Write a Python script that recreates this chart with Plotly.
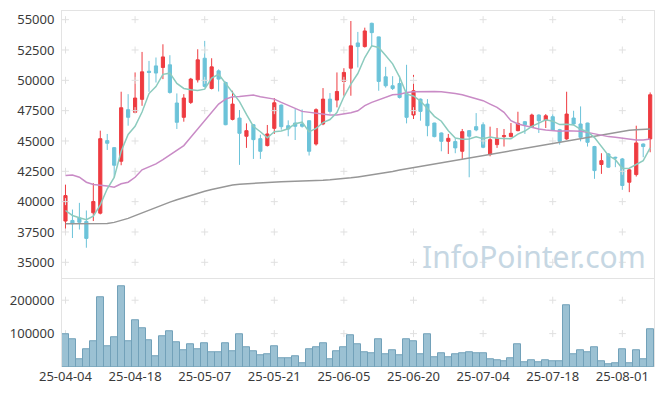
import plotly.graph_objects as go

dates = [
    "25-04-04", "25-04-07", "25-04-08", "25-04-09", "25-04-10", "25-04-11", "25-04-14", "25-04-15",
    "25-04-16", "25-04-17", "25-04-18", "25-04-21", "25-04-22", "25-04-23", "25-04-24", "25-04-25",
    "25-04-28", "25-04-29", "25-04-30", "25-05-02", "25-05-07", "25-05-08", "25-05-09", "25-05-12",
    "25-05-13", "25-05-14", "25-05-15", "25-05-16", "25-05-19", "25-05-20", "25-05-21", "25-05-22",
    "25-05-23", "25-05-26", "25-05-27", "25-05-28", "25-05-29", "25-05-30", "25-06-02", "25-06-04",
    "25-06-05", "25-06-09", "25-06-10", "25-06-11", "25-06-12", "25-06-13", "25-06-16", "25-06-17",
    "25-06-18", "25-06-19", "25-06-20", "25-06-23", "25-06-24", "25-06-25", "25-06-26", "25-06-27",
    "25-06-30", "25-07-01", "25-07-02", "25-07-03", "25-07-04", "25-07-07", "25-07-08", "25-07-09",
    "25-07-10", "25-07-11", "25-07-14", "25-07-15", "25-07-16", "25-07-17", "25-07-18", "25-07-21",
    "25-07-22", "25-07-23", "25-07-24", "25-07-25", "25-07-28", "25-07-29", "25-07-30", "25-07-31",
    "25-08-01", "25-08-04", "25-08-05", "25-08-06", "25-08-07",
]

open_ = [38400, 38450, 38650, 38370, 39080, 39050, 45030, 44450, 43330, 47580,
         47360, 48430, 50750, 51190, 51060, 51280, 48130, 46950, 48180, 50040,
         51820, 49330, 50780, 49820, 46780, 46890, 45390, 46340, 45190, 44620,
         46040, 47960, 46260, 46480, 46400, 46670, 44750, 46400, 48450, 48370,
         49910, 51000, 53080, 52780, 54700, 53580, 50290, 49550, 49740, 48920,
         47140, 48450, 48040, 46480, 45660, 44970, 44950, 44150, 45850, 46180,
         46340, 43880, 44700, 45360, 45360, 45850, 46590, 46180, 47140, 46730,
         47000, 45930, 45170, 46890, 46400, 46480, 44540, 43060, 43930, 43660,
         43520, 41600, 42230, 44750, 45170]
high = [41400, 39350, 39900, 39270, 41520, 45850, 45580, 44500, 49060, 48860,
        50650, 52340, 51600, 51880, 52970, 52070, 48920, 48860, 50200, 52560,
        53250, 51820, 50900, 49900, 49140, 47550, 46450, 46400, 45520, 46320,
        48540, 48000, 46700, 47630, 47600, 46700, 47690, 49360, 48950, 50650,
        51000, 54890, 53990, 54340, 54750, 53600, 51110, 50340, 50370, 51280,
        50450, 48500, 48450, 46500, 45700, 45580, 45200, 45990, 45900, 47300,
        46540, 46180, 46070, 45990, 46480, 47410, 46650, 47250, 47200, 47220,
        47200, 46000, 49060, 47490, 47850, 46500, 44600, 43990, 44000, 43700,
        43600, 42700, 46260, 44800, 49000]
low = [37450, 37000, 37700, 36200, 38400, 38950, 44260, 42010, 43000, 46260,
       47300, 47900, 49050, 49820, 50100, 48900, 45990, 46590, 48050, 49820,
       49400, 49250, 49080, 46300, 46700, 43030, 44430, 43520, 43520, 44550,
       45580, 45930, 45390, 45080, 46100, 43800, 44620, 46300, 47250, 47770,
       48730, 48730, 51060, 52700, 52750, 49140, 49400, 49200, 48500, 46450,
       46810, 46670, 45390, 45300, 44150, 43930, 43990, 43520, 42010, 45800,
       44400, 43740, 44430, 44540, 45300, 45800, 45580, 46100, 45660, 46070,
       45850, 44700, 45100, 46300, 44970, 44540, 41880, 42290, 42800, 42840,
       40970, 40780, 42070, 43660, 44070]
close = [40500, 38180, 38300, 36970, 40010, 45190, 44810, 43000, 47740, 46950,
         48540, 50700, 50650, 50600, 51930, 49000, 46540, 48540, 50100, 51690,
         49500, 51110, 50100, 46340, 48040, 45630, 45850, 45110, 44150, 45580,
         48150, 46180, 45990, 46210, 46210, 44150, 47580, 48450, 47440, 49080,
         50650, 52840, 52780, 54070, 53930, 49910, 49550, 49330, 48590, 46950,
         49140, 47440, 46260, 45360, 44970, 45220, 44430, 45770, 45390, 45910,
         44480, 45110, 45220, 45440, 45630, 46450, 46340, 47140, 46670, 47080,
         45910, 44970, 47220, 46400, 45300, 44890, 42560, 43380, 42840, 43600,
         41330, 42620, 44840, 44540, 48810]

ma5 = [39270, 38860, 38670, 38510, 38800, 39740, 41060, 42000, 44150, 45540,
       46210, 47390, 48910, 49490, 50490, 50590, 49750, 49330, 49220, 49170,
       49270, 50190, 50500, 49750, 49020, 48250, 47190, 46200, 45760, 45260,
       45770, 45830, 46010, 46420, 46550, 45750, 46030, 46520, 46770, 47340,
       48640, 49690, 50560, 51880, 52850, 52710, 52050, 51360, 50260, 48860,
       48710, 48290, 47680, 47030, 46630, 45850, 45250, 45150, 45160, 45340,
       45190, 45330, 45220, 45230, 45180, 45570, 45820, 46200, 46450, 46740,
       46630, 46350, 46370, 46320, 45960, 45760, 45280, 44510, 43800, 43460,
       42740, 42750, 43040, 43380, 44430]
ma20 = [42150, 42200, 42010, 41600, 41410, 41360, 41280, 41190, 41470, 41600,
        42010, 42620, 42840, 43110, 43470, 43850, 44210, 44620, 45300, 45990,
        46670, 47360, 48040, 48450, 48650, 48670, 48700, 48780, 48650, 48540,
        48450, 48180, 47910, 47690, 47440, 47360, 47300, 47220, 47140, 47140,
        47220, 47330, 47490, 47910, 48180, 48370, 48590, 48810, 48860, 49000,
        49060, 49080, 49080, 49080, 49060, 49000, 48920, 48810, 48650, 48450,
        48320, 48040, 47770, 47360, 46670, 46400, 46260, 46120, 45990, 45910,
        45850, 45800, 45850, 45850, 45800, 45710, 45580, 45440, 45360, 45300,
        45220, 45170, 45080, 45080, 45170]
ma60 = [38180, 38180, 38180, 38180, 38180, 38190, 38200, 38290, 38430, 38620,
        38850, 39080, 39300, 39530, 39750, 39960, 40160, 40350, 40530, 40700,
        40860, 41000, 41140, 41270, 41370, 41440, 41480, 41520, 41560, 41590,
        41620, 41640, 41650, 41660, 41670, 41690, 41720, 41760, 41800, 41840,
        41890, 41960, 42040, 42120, 42200, 42290, 42380, 42490, 42600, 42700,
        42800, 42900, 43000, 43100, 43200, 43300, 43400, 43500, 43600, 43700,
        43800, 43900, 44000, 44100, 44200, 44300, 44400, 44500, 44600, 44700,
        44800, 44900, 45000, 45100, 45200, 45300, 45400, 45500, 45600, 45700,
        45800, 45880, 45920, 45950, 45980]
volume = [98000, 82000, 23000, 52000, 76000, 208000, 61000, 88000, 241000, 76000,
          139000, 115000, 80000, 32000, 91000, 106000, 73000, 49000, 67000, 52000,
          70000, 43000, 43000, 70000, 46000, 98000, 58000, 46000, 34000, 38000,
          61000, 25000, 25000, 31000, 11000, 52000, 58000, 71000, 22000, 46000,
          58000, 95000, 67000, 43000, 40000, 82000, 37000, 49000, 34000, 82000,
          76000, 37000, 98000, 28000, 40000, 28000, 37000, 40000, 43000, 40000,
          41000, 23000, 20000, 17000, 26000, 68000, 14000, 20000, 14000, 20000,
          17000, 17000, 186000, 38000, 50000, 44000, 59000, 17000, 8000, 11000,
          53000, 11000, 50000, 23000, 114000]

x_ticks = ["25-04-04", "25-04-18", "25-05-07", "25-05-21", "25-06-05",
           "25-06-20", "25-07-04", "25-07-18", "25-08-01"]
price_ticks = [35000, 37500, 40000, 42500, 45000, 47500, 50000, 52500, 55000]
volume_ticks = [100000, 200000]

RED = "#ee3b40"
BLUE = "#6cc3d9"
GRID = "#e0e0e0"
AXLINE = "#e3e3e3"
FONT = dict(family="Noto Sans, DejaVu Sans, sans-serif", size=13, color="#3a3a3a")
VOL_RANGE = [0, 265700]

fig = go.Figure()

# grid "+" marks at tick intersections (kept behind the data)
fig.add_trace(go.Scatter(
    x=[d for d in x_ticks for _ in price_ticks], y=[v for _ in x_ticks for v in price_ticks],
    mode="markers", marker=dict(symbol="cross-thin", size=5, line=dict(color=GRID, width=1)),
    hoverinfo="skip", showlegend=False, xaxis="x", yaxis="y"))
fig.add_trace(go.Scatter(
    x=[d for d in x_ticks for _ in volume_ticks], y=[v for _ in x_ticks for v in volume_ticks],
    mode="markers", marker=dict(symbol="cross-thin", size=5, line=dict(color=GRID, width=1)),
    hoverinfo="skip", showlegend=False, xaxis="x2", yaxis="y2"))

fig.add_trace(go.Candlestick(
    x=dates, open=open_, high=high, low=low, close=close,
    increasing=dict(line=dict(color=RED, width=1), fillcolor=RED),
    decreasing=dict(line=dict(color=BLUE, width=1), fillcolor=BLUE),
    whiskerwidth=0, showlegend=False, xaxis="x", yaxis="y"))

fig.add_trace(go.Scatter(x=dates, y=ma60, mode="lines", line=dict(color="#979797", width=1.5),
                         showlegend=False, xaxis="x", yaxis="y"))
fig.add_trace(go.Scatter(x=dates, y=ma20, mode="lines", line=dict(color="#c98bc6", width=1.5),
                         showlegend=False, xaxis="x", yaxis="y"))
fig.add_trace(go.Scatter(x=dates, y=ma5, mode="lines", line=dict(color="#8ccbbe", width=1.5),
                         showlegend=False, xaxis="x", yaxis="y"))

fig.add_trace(go.Bar(x=dates, y=volume, marker=dict(color="#9bc1d3", line=dict(color="#72a1b9", width=1)),
                     showlegend=False, xaxis="x2", yaxis="y3"))

split = 89 / 357

fig.update_layout(
    width=665, height=396,
    margin=dict(l=61, r=10, t=10, b=29),
    paper_bgcolor="white", plot_bgcolor="white",
    font=FONT,
    boxgap=0.35,
    bargap=0,
    showlegend=False,
    xaxis=dict(domain=[0, 1], anchor="y", type="category", categoryorder="array",
               categoryarray=dates, range=[-0.5, 84.55],
               rangeslider=dict(visible=False), showticklabels=False, showgrid=False,
               zeroline=False, showline=True, mirror=True, linecolor=AXLINE, linewidth=1,
               tickvals=x_ticks),
    yaxis=dict(domain=[split, 1], anchor="x", range=[33685, 55714], tickvals=price_ticks,
               tickformat="d",
               showgrid=False, zeroline=False, showline=True, mirror=True, linecolor=AXLINE,
               linewidth=1, ticks="", ticklabelstandoff=4, tickfont=FONT),
    xaxis2=dict(domain=[0, 1], anchor="y2", type="category", categoryorder="array",
                categoryarray=dates, range=[-0.5, 84.55], matches="x",
                tickvals=x_ticks, ticktext=x_ticks, showgrid=False, zeroline=False,
                showline=False, ticks="", tickangle=0, tickfont=FONT),
    yaxis2=dict(domain=[0, split], anchor="x2", range=VOL_RANGE, tickvals=volume_ticks,
                tickformat="d",
                showgrid=False, zeroline=False, showline=True, mirror=True, linecolor=AXLINE,
                linewidth=1, ticks="", ticklabelstandoff=4, tickfont=FONT),
    yaxis3=dict(overlaying="y2", anchor="x2", range=VOL_RANGE, visible=False,
                showgrid=False, zeroline=False),
    annotations=[dict(text="InfoPointer.com", xref="paper", yref="paper",
                      x=(649 - 61) / 594, y=(367 - 256) / 357, xanchor="right", yanchor="middle",
                      showarrow=False,
                      font=dict(family="Noto Sans, DejaVu Sans, sans-serif", size=30, color="#c6d7e3"))],
)

fig.write_html("out.html", config={"displayModeBar": False},
               post_script="document.body.style.margin='0';document.body.style.padding='0';")
